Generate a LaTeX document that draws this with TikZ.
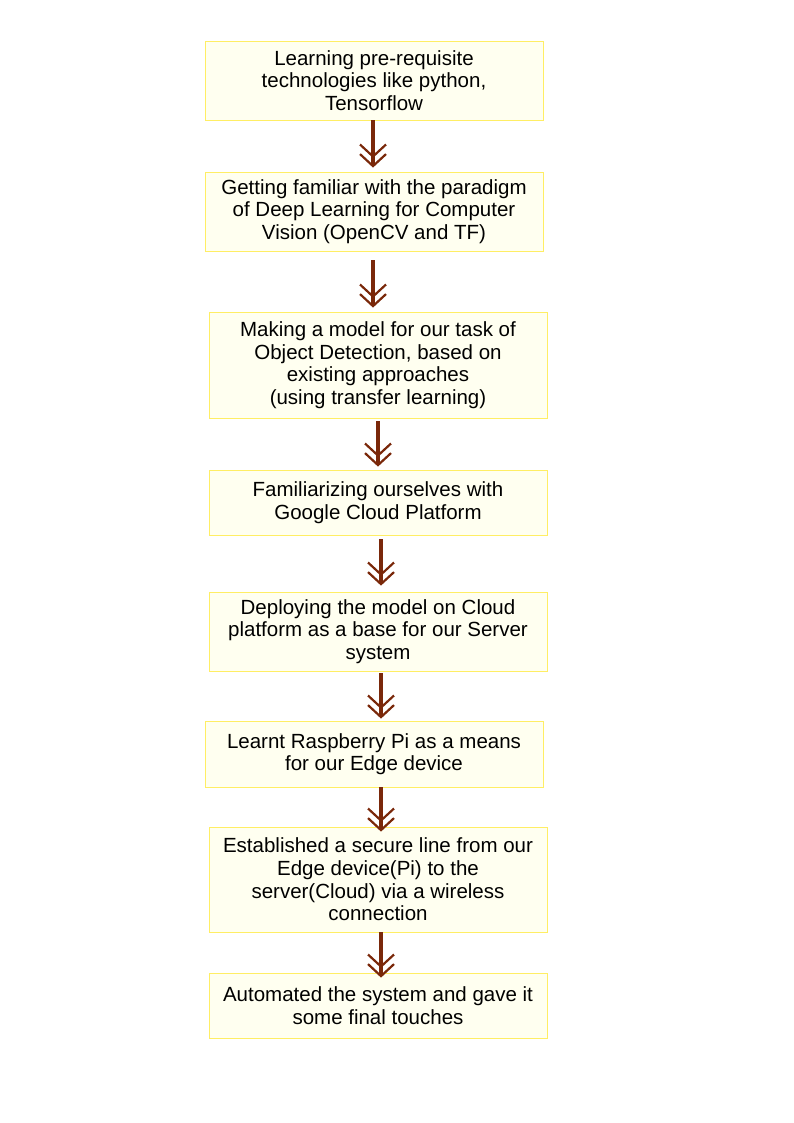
\documentclass[tikz,border=0pt]{standalone}
\usepackage{fontspec}
\setmainfont{Liberation Sans}
\usetikzlibrary{arrows.meta}
\definecolor{boxfill}{RGB}{255,255,240}
\definecolor{boxline}{RGB}{255,238,100}
\definecolor{arrbrown}{RGB}{122,40,10}
\begin{document}
\begin{tikzpicture}[
        x=1pt, y=-1pt,
        stepbox/.style={rectangle, draw=boxline, fill=boxfill, line width=0.8pt, minimum width=338pt, inner sep=0pt, align=center, font=\fontsize{20.5}{22.6}\selectfont},
        flow/.style={draw=arrbrown, line width=4pt, -{Straight Barb[length=12pt,width=26pt,line width=2.2pt,sep=-5pt]Straight Barb[length=12pt,width=26pt,line width=2.2pt]}}
    ]
    \useasboundingbox (0,0) rectangle (794,1123);
    \node[stepbox, minimum height=79pt] (learn) at (374,80.5) {
        Learning pre-requisite\\
        technologies like python,\\
        Tensorflow
    };
    \node[stepbox, minimum height=79pt] (paradigm) at (374,211.5) {
        Getting familiar with the paradigm\\
        of Deep Learning for Computer\\
        Vision (OpenCV and TF)
    };
    \node[stepbox, minimum height=106pt] (model) at (378,365) {
        Making a model for our task of\\
        Object Detection, based on\\
        existing approaches\\
        (using transfer learning)
    };
    \node[stepbox, minimum height=65pt] (gcp) at (378,502.5) {
        Familiarizing ourselves with\\
        Google Cloud Platform
    };
    \node[stepbox, minimum height=79pt] (deploy) at (378,631.5) {
        Deploying the model on Cloud\\
        platform as a base for our Server\\
        system
    };
    \node[stepbox, minimum height=66pt] (pi) at (374,754) {
        Learnt Raspberry Pi as a means\\
        for our Edge device
    };
    \node[stepbox, minimum height=105pt] (secure) at (378,879.5) {
        Established a secure line from our\\
        Edge device(Pi) to the\\
        server(Cloud) via a wireless\\
        connection
    };
    \node[stepbox, minimum height=65pt] (final) at (378,1005.5) {
        Automated the system and gave it\\
        some final touches
    };
    % arrows between the steps
    \draw[flow, shorten >=4pt] (learn.south) ++(-1,0) coordinate (a1) -- (a1 |- paradigm.north);
    \draw[flow, shorten <=9pt, shorten >=4pt] (paradigm.south) ++(-1,0) coordinate (a2) -- (a2 |- model.north);
    \draw[flow, shorten <=3pt, shorten >=3pt] (model.south) -- (gcp.north);
    \draw[flow, shorten <=4pt, shorten >=6pt] (gcp.south) ++(3,0) coordinate (a4) -- (a4 |- deploy.north);
    \draw[flow, shorten <=2pt, shorten >=2pt] (deploy.south) ++(3,0) coordinate (a5) -- (a5 |- pi.north);
    \draw[flow, shorten >=-5pt] (pi.south) ++(7,0) coordinate (a6) -- (a6 |- secure.north);
    \draw[flow, shorten >=-5pt] (secure.south) ++(3,0) coordinate (a7) -- (a7 |- final.north);
\end{tikzpicture}
\end{document}
